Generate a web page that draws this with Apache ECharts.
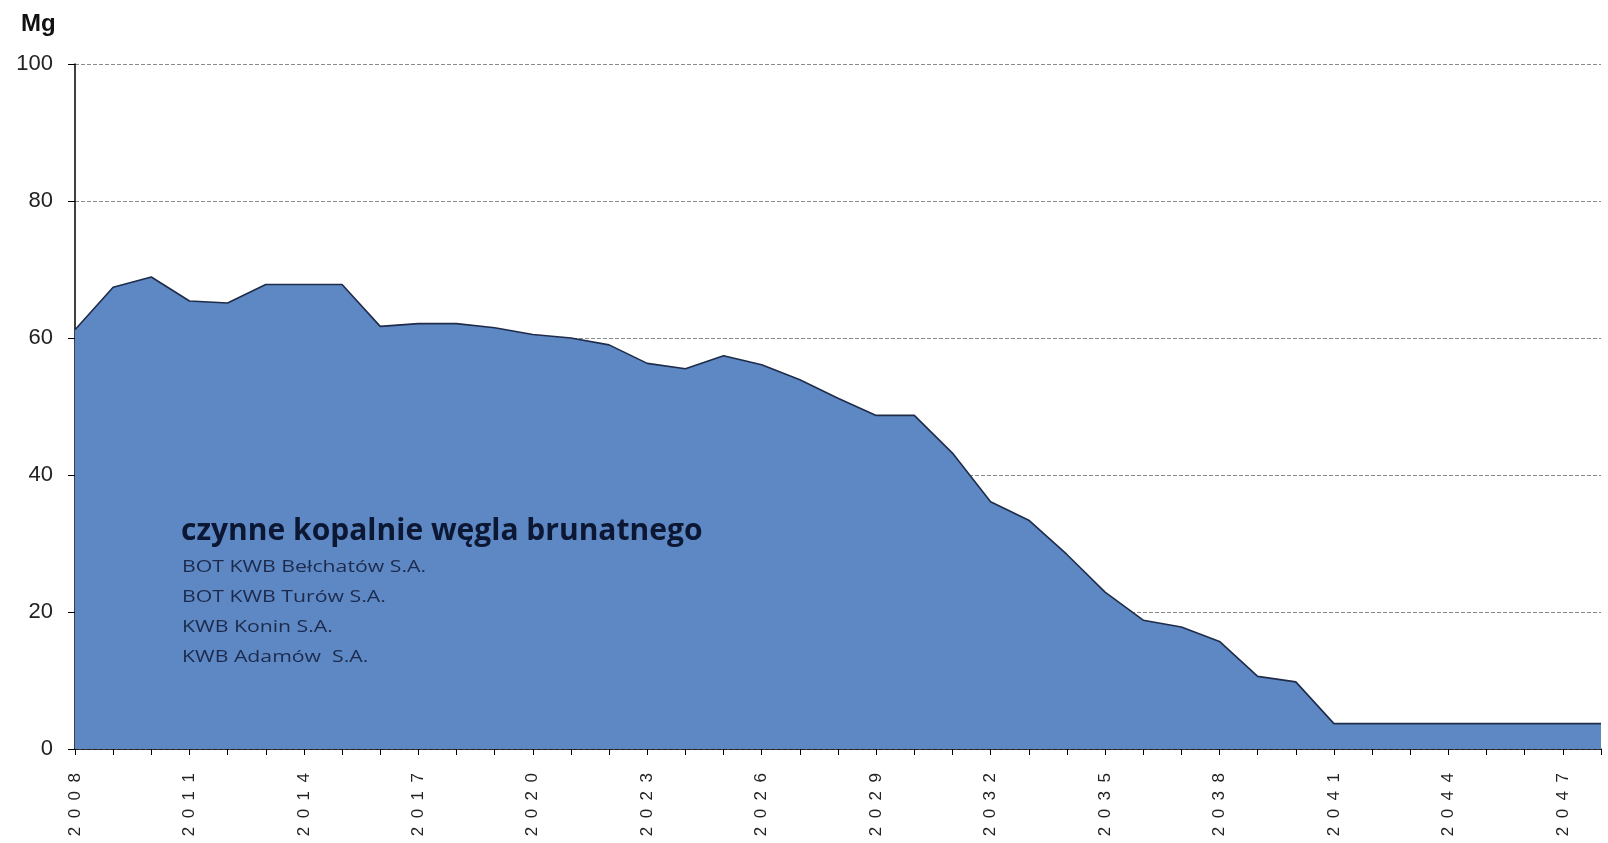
<!DOCTYPE html>
<html>
<head>
<meta charset="utf-8">
<script src="https://cdn.jsdelivr.net/npm/echarts@6/dist/echarts.min.js"></script>
<style>
  html, body { margin: 0; padding: 0; background: #fff; }
  #chart { width: 1608px; height: 843px; }
</style>
</head>
<body>
<div id="chart"></div>
<script>
// Years 2008–2048
const years = [];
for (let y = 2008; y <= 2048; y++) years.push(String(y));

// Lignite output of active mines (Mg)
const output = [
  61.2, 67.4, 68.9, 65.4, 65.1, 67.8, 67.8, 67.8, 61.7, 62.1,
  62.1, 61.5, 60.5, 60.0, 59.0, 56.3, 55.5, 57.4, 56.1, 53.9,
  51.2, 48.7, 48.7, 43.2, 36.1, 33.4, 28.4, 22.9, 18.8, 17.8,
  15.7, 10.6, 9.8, 3.7, 3.7, 3.7, 3.7, 3.7, 3.7, 3.7, 3.7
];

const yTicks = { min: 0, max: 100, step: 20 };

const unitLabel = 'Mg';
const noteTitle = 'czynne kopalnie węgla brunatnego';
const noteLines = [
  'BOT KWB Bełchatów S.A.',
  'BOT KWB Turów S.A.',
  'KWB Konin S.A.',
  'KWB Adamów  S.A.'
];

const chart = echarts.init(document.getElementById('chart'));

const graphics = [
  {
    type: 'text', left: 21, top: 12,
    style: { text: unitLabel, font: 'bold 24px "Liberation Sans", Arial, sans-serif', fill: '#111' }
  },
  {
    type: 'text', left: 181, top: 516, z: 10,
    style: { text: noteTitle, font: 'bold 30px "Open Sans", sans-serif', fill: '#0c1733' }
  }
];
noteLines.forEach((t, i) => {
  graphics.push({
    type: 'text', x: 182, y: 559 + i * 30, z: 10, scaleX: 1.25,
    style: { text: t, font: '17px "Open Sans", sans-serif', fill: '#1b2a4d' }
  });
});

chart.setOption({
  animation: false,
  backgroundColor: '#fff',
  grid: { left: 75, right: 7, top: 64, bottom: 94, containLabel: false },
  xAxis: {
    type: 'category',
    data: years,
    boundaryGap: false,
    axisLine: { show: true, lineStyle: { color: '#000', width: 1.5 } },
    axisTick: { show: true, interval: 0, length: 6, lineStyle: { color: '#000' } },
    axisLabel: {
      interval: 2,
      rotate: 90,
      margin: 24,
      color: '#222',
      fontFamily: '"Liberation Sans", Arial, sans-serif',
      fontSize: 17,
      formatter: v => v.split('').join('\u2002')
    },
    splitLine: { show: false }
  },
  yAxis: {
    type: 'value',
    min: yTicks.min, max: yTicks.max, interval: yTicks.step,
    axisLine: { show: true, lineStyle: { color: '#000', width: 1.5 } },
    axisTick: { show: true, length: 7, lineStyle: { color: '#000' } },
    axisLabel: {
      margin: 22,
      color: '#222',
      fontFamily: '"Liberation Sans", Arial, sans-serif',
      fontSize: 22
    },
    splitLine: { show: true, lineStyle: { color: '#8a8a8a', type: [4, 2], width: 1 } }
  },
  series: [{
    type: 'line',
    data: output,
    symbol: 'none',
    lineStyle: { color: '#1e2c4a', width: 1.6 },
    areaStyle: { color: '#5e88c4', opacity: 1 },
    z: 2
  }],
  graphic: graphics
});
</script>
</body>
</html>
